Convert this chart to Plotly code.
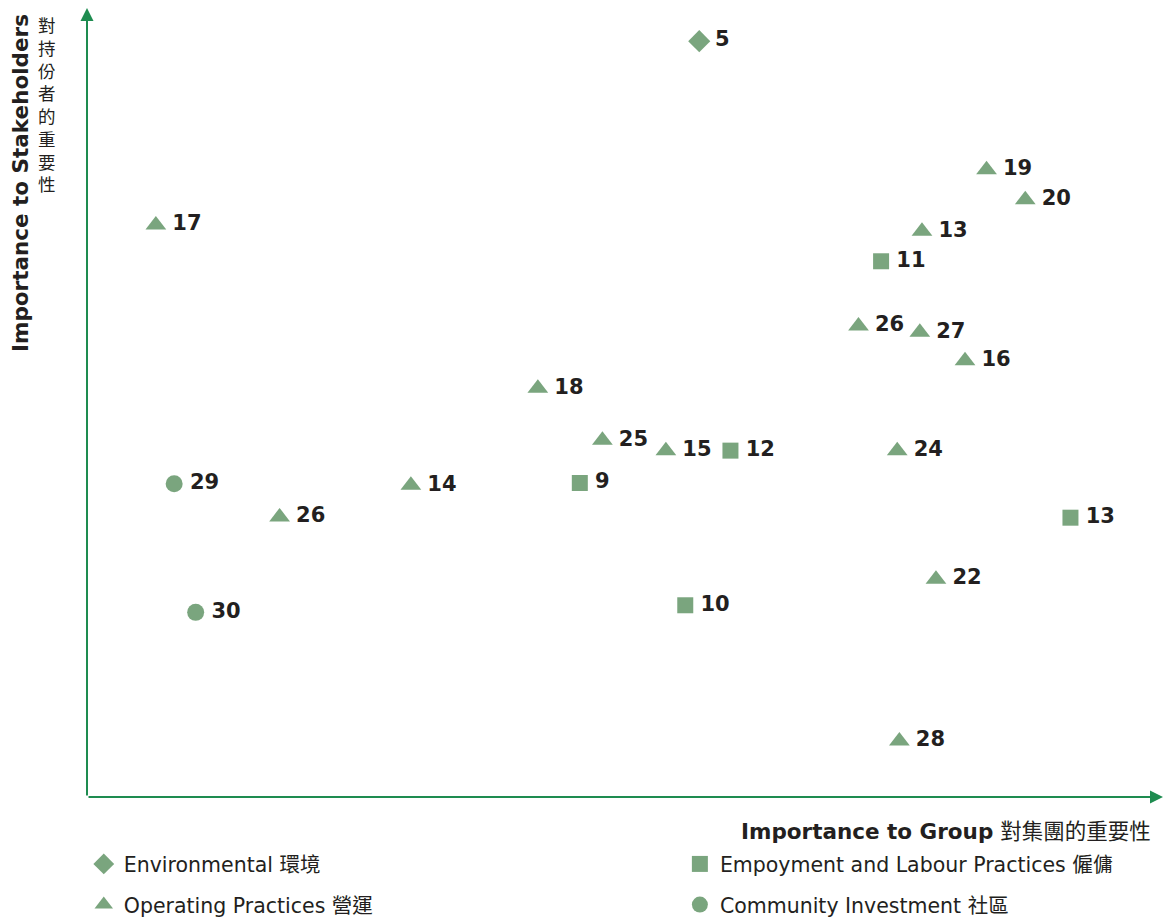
import plotly.graph_objects as go

# ---- data (importance to group = x, importance to stakeholders = y) ----
env_x = [5.69]
env_y = [9.58]
env_lbl = ["5"]

emp_x = [7.38, 5.98, 4.58, 9.14, 5.56]
emp_y = [6.79, 4.39, 3.98, 3.54, 2.43]
emp_lbl = ["11", "12", "9", "13", "10"]

op_x = [8.36, 8.72, 7.76, 7.17, 7.74, 8.16, 0.64, 4.19, 4.79, 5.38, 7.53, 3.01, 1.79, 7.89, 7.55]
op_y = [7.95, 7.57, 7.17, 5.97, 5.89, 5.53, 7.25, 5.18, 4.52, 4.39, 4.39, 3.95, 3.55, 2.76, 0.71]
op_lbl = ["19", "20", "13", "26", "27", "16", "17", "18", "25", "15", "24", "14", "26", "22", "28"]

com_x = [0.81, 1.01]
com_y = [3.97, 2.34]
com_lbl = ["29", "30"]

series_names = [
    "Environmental 環境",
    "Operating Practices 營運",
    "Empoyment and Labour Practices 僱傭",
    "Community Investment 社區",
]

MARK = "#7aa57e"
AXIS = "#1e8c50"
TXT = "#231f20"
LABEL_FONT = dict(family="DejaVu Sans", size=21, color=TXT, weight="bold")

fig = go.Figure()

def add(xs, ys, lbls, name, symbol, size, legend, group):
    fig.add_trace(go.Scatter(
        x=xs, y=ys, text=["\u2009" + s for s in lbls], mode="markers+text",
        textposition="middle right",
        name=name, legend=legend, legendgroup=group,
        marker=dict(symbol=symbol, size=size, color=MARK, line=dict(width=0)),
        textfont=LABEL_FONT, cliponaxis=False, hoverinfo="skip",
    ))

add(env_x, env_y, env_lbl, series_names[0], "diamond", 17, "legend", "g1")
add(op_x, op_y, op_lbl, series_names[1], "triangle-up", 18, "legend", "g2")
add(emp_x, emp_y, emp_lbl, series_names[2], "square", 16, "legend2", "g3")
add(com_x, com_y, com_lbl, series_names[3], "circle", 17, "legend2", "g4")

legend_font = dict(family="DejaVu Sans, Noto Sans CJK TC", size=20.5, color=TXT)

fig.update_layout(
    width=1163, height=921,
    margin=dict(l=87, r=0, t=8, b=124, pad=0),
    paper_bgcolor="white", plot_bgcolor="white",
    xaxis=dict(range=[0, 10], visible=False, fixedrange=True),
    yaxis=dict(range=[0, 10], visible=False, fixedrange=True),
    showlegend=True,
    legend=dict(x=-0.003, y=0.0835, xanchor="left", yanchor="top", yref="container",
                orientation="v", tracegroupgap=11, font=legend_font,
                bgcolor="rgba(0,0,0,0)", borderwidth=0),
    legend2=dict(x=0.551, y=0.0835, xanchor="left", yanchor="top", yref="container",
                 orientation="v", tracegroupgap=11, font=legend_font,
                 bgcolor="rgba(0,0,0,0)", borderwidth=0),
)

# axis arrows
fig.add_annotation(x=1, y=0, xref="x domain", yref="y domain",
                   ax=0, ay=0, axref="x domain", ayref="y domain",
                   text="", showarrow=True, arrowhead=2, arrowsize=1.3,
                   arrowwidth=2, arrowcolor=AXIS)
fig.add_annotation(x=0, y=1, xref="x domain", yref="y domain",
                   ax=0, ay=0, axref="x domain", ayref="y domain",
                   text="", showarrow=True, arrowhead=2, arrowsize=1.3,
                   arrowwidth=2, arrowcolor=AXIS)

# axis titles
fig.add_annotation(x=1, y=0, xref="paper", yref="paper", xanchor="right", yanchor="middle",
                   xshift=-10, yshift=-34, showarrow=False,
                   text="<b>Importance to Group</b> 對集團的重要性",
                   font=dict(family="DejaVu Sans, Noto Sans CJK TC", size=21.5, color=TXT))
fig.add_annotation(x=0, y=1, xref="paper", yref="paper", xanchor="center", yanchor="top",
                   xshift=-67, yshift=-4, showarrow=False, textangle=-90,
                   text="<b>Importance to Stakeholders</b>",
                   font=dict(family="DejaVu Sans", size=21.5, color=TXT))
fig.add_annotation(x=0, y=1, xref="paper", yref="paper", xanchor="center", yanchor="top",
                   xshift=-40, yshift=-2, showarrow=False,
                   text="<br>".join(list("對持份者的重要性")),
                   font=dict(family="Noto Sans CJK TC", size=17.5, color=TXT))

fig.write_html("out.html")
